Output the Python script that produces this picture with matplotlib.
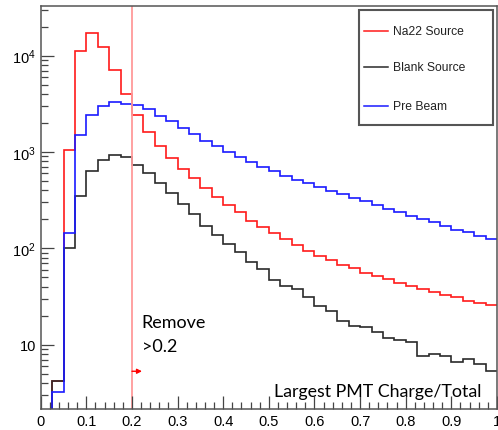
import matplotlib
matplotlib.use('Agg')
import matplotlib.pyplot as plt
import numpy as np
from matplotlib.patches import Rectangle
from matplotlib.lines import Line2D
from matplotlib.ticker import FixedLocator, FixedFormatter, LogLocator, NullFormatter, MultipleLocator, FuncFormatter

plt.rcParams['font.family'] = ['Liberation Sans', 'DejaVu Sans']
plt.rcParams['mathtext.fontset'] = 'custom'
plt.rcParams['mathtext.rm'] = 'Liberation Sans'
plt.rcParams['mathtext.it'] = 'Liberation Sans:italic'

# ---- data (40 bins of width 0.025 from 0 to 1) ----
bin_width = 0.025
n_bins = 40
na22 = [0, 4.2, 1050, 11100, 17300, 12300, 7110, 3970, 2420, 1600,
        1160, 861, 667, 534, 423, 344, 282, 237, 194, 165,
        143, 125, 108, 94.6, 84, 76.3, 67.6, 62.1, 55.5, 51.3,
        48.1, 43.4, 40.9, 37.8, 35.0, 32.8, 31.0, 28.6, 26.9, 25.8]
blank = [0, 4.2, 101, 352, 635, 832, 938, 881, 738, 605,
         477, 373, 292, 226, 172, 138, 111, 91.6, 71.6, 61.1,
         47.5, 40.9, 37.8, 31.0, 25.2, 22.4, 17.7, 15.7, 15.2, 13.5,
         11.8, 11.3, 10.6, 7.7, 7.96, 7.6, 6.56, 7.05, 6.38, 5.33]
prebeam = [0, 3.25, 143, 1490, 2420, 3030, 3280, 3180, 3080, 2800,
           2380, 2080, 1760, 1530, 1310, 1150, 993, 887, 782, 693,
           640, 567, 516, 473, 436, 397, 364, 331, 308, 282,
           256, 240, 218, 202, 187, 172, 156, 147, 135, 125]
labels = ['Na22 Source', 'Blank Source', 'Pre Beam']
colors = ['#ff1a1a', '#2a2a2a', '#1a1aff']
cut_value = 0.2
y_major = [10, 100, 1000, 10000]
y_major_labels = ['10', r'$\mathregular{10^{2}}$', r'$\mathregular{10^{3}}$', r'$\mathregular{10^{4}}$']

edges = np.arange(n_bins + 1) * bin_width

fig = plt.figure(figsize=(4.98, 4.31), dpi=100)
ax = fig.add_axes([0.0817, 0.0487, 0.9163, 0.9357])
ax.set_yscale('log', nonpositive='clip')

for vals, c in zip([na22, blank, prebeam], colors):
    ax.stairs(np.array(vals, dtype=float), edges, color=c, lw=1.2, baseline=None)

ax.set_xlim(0, 1)
ax.set_ylim(2.15, 33000)

ax.axvline(cut_value, color='#ff9a9a', lw=1.3, zorder=1)
ax.annotate('', xy=(0.222, 5.3), xytext=(cut_value, 5.3),
            arrowprops=dict(arrowstyle='-|>', color='red', lw=1.0,
                            mutation_scale=7, shrinkA=0, shrinkB=0))

ax.text(0.2213, 15.2, 'Remove', fontfamily=['Lato', 'DejaVu Sans'], fontsize=13, va='baseline', ha='left')
ax.text(0.2213, 8.67, '>0.2', fontfamily=['Lato', 'DejaVu Sans'], fontsize=13, va='baseline', ha='left')
ax.text(0.9665, 0.033, 'Largest PMT Charge/Total', transform=ax.transAxes,
        fontfamily=['Lato', 'DejaVu Sans'], fontsize=12.75, va='baseline', ha='right')

# ticks
ax.yaxis.set_major_locator(FixedLocator(y_major))
ax.yaxis.set_major_formatter(FixedFormatter(y_major_labels))
ax.yaxis.set_minor_locator(LogLocator(base=10, subs=np.arange(2, 10)))
ax.yaxis.set_minor_formatter(NullFormatter())
ax.xaxis.set_major_locator(MultipleLocator(0.1))
ax.xaxis.set_minor_locator(MultipleLocator(0.02))
ax.xaxis.set_major_formatter(FuncFormatter(lambda v, p: '%g' % round(v, 2)))
ax.tick_params(which='both', direction='in', top=False, right=False, color='#444444', width=0.9)
ax.tick_params(which='major', length=9.4, labelsize=10.5, pad=3.5)
ax.tick_params(which='minor', length=4.7)
for s in ax.spines.values():
    s.set_color('#555555')
    s.set_linewidth(1.1)

# legend box
ax.add_patch(Rectangle((0.6976, 0.7049), 0.2943, 0.2844, transform=ax.transAxes,
                       fc='white', ec='#555555', lw=1.5, zorder=5))
ys = [0.938, 0.8473, 0.752]
for lab, c, yy in zip(labels, colors, ys):
    ax.add_line(Line2D([0.7092, 0.7618], [yy, yy], transform=ax.transAxes, color=c, lw=1.1, zorder=6))
    ax.text(0.7728, yy, lab, transform=ax.transAxes, fontsize=8.7, va='center', ha='left', color='#222222', zorder=6)

fig.savefig('out.png', dpi=100)
